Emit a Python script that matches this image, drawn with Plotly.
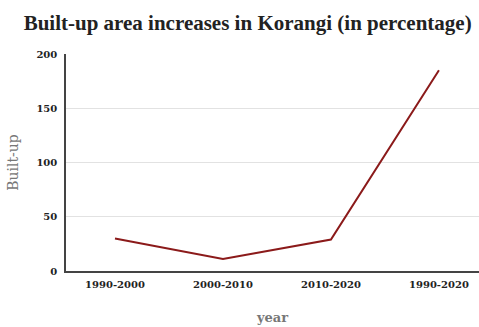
import plotly.graph_objects as go

categories = ["1990-2000", "2000-2010", "2010-2020", "1990-2020"]
built_up = [30, 11, 29, 185]
y_ticks = [0, 50, 100, 150, 200]

fig = go.Figure()
fig.add_trace(go.Scatter(
    x=list(range(len(categories))), y=built_up, mode="lines",
    line=dict(color="#8b1a1a", width=2), hoverinfo="skip"))

fig.update_layout(
    width=479, height=327,
    margin=dict(l=66, r=0, t=54, b=56),
    paper_bgcolor="white", plot_bgcolor="white",
    showlegend=False,
    title=dict(text="<b>Built-up area increases in Korangi (in percentage)</b>",
               x=0.517, xanchor="center", y=0.93, yanchor="middle",
               font=dict(family="Liberation Serif", size=21, color="#222222")),
    xaxis=dict(
        tickmode="array", tickvals=list(range(len(categories))),
        ticktext=["<b>%s</b>" % c for c in categories],
        range=[-0.4536, 3.371], showgrid=False, zeroline=False,
        showline=True, linecolor="#444444", linewidth=1.5,
        ticks="outside", ticklen=3, tickcolor="rgba(0,0,0,0)",
        tickfont=dict(family="DejaVu Serif", size=10, color="#222222"),
        title=dict(text="<b>year</b>", standoff=24,
                   font=dict(family="DejaVu Serif", size=13, color="#777777")),
    ),
    yaxis=dict(
        range=[0, 200], tickmode="array", tickvals=y_ticks,
        ticktext=["<b>%d</b>" % v for v in y_ticks],
        showgrid=True, gridcolor="#e2e2e2", gridwidth=1, zeroline=False,
        showline=True, linecolor="#444444", linewidth=1.5,
        ticks="outside", ticklen=5, tickcolor="rgba(0,0,0,0)",
        tickfont=dict(family="DejaVu Serif", size=10, color="#222222"),
        title=dict(text="Built-up", standoff=14,
                   font=dict(family="DejaVu Serif", size=14, color="#777777")),
    ),
)

fig.write_html("out.html")
